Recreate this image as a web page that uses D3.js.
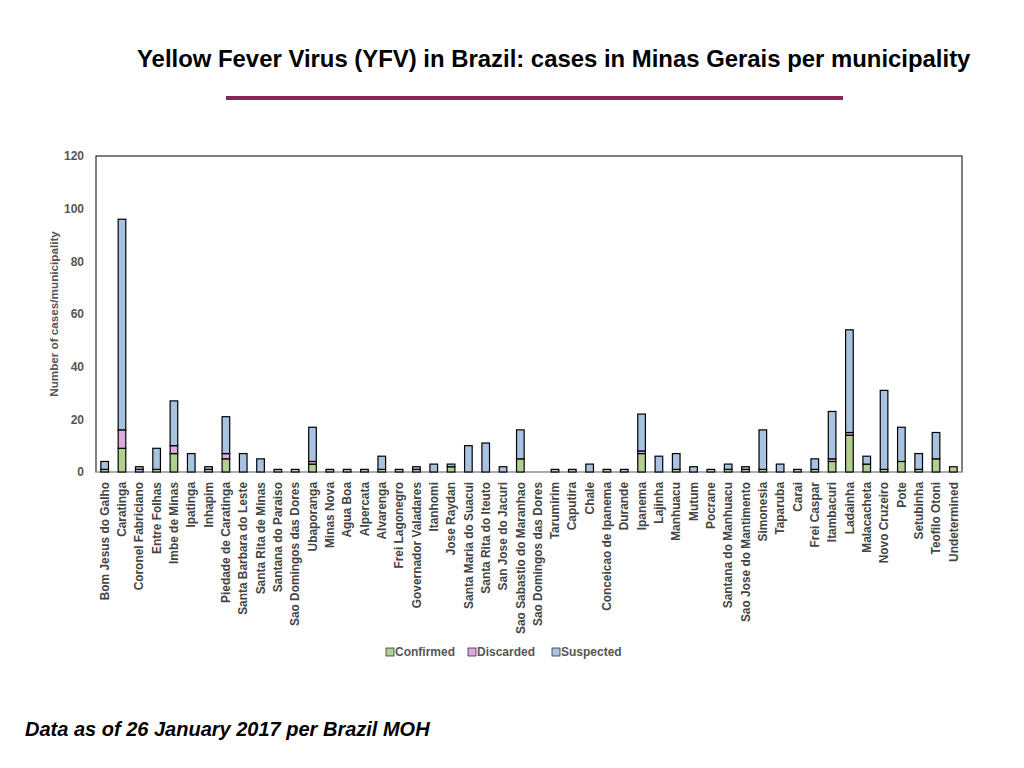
<!DOCTYPE html>
<html>
<head>
<meta charset="UTF-8">
<title>YFV Minas Gerais</title>
<script src="https://d3js.org/d3.v7.min.js"></script>
<style>
  body { margin: 0; background: #fff; }
  svg { font-family: "Liberation Sans", Arial, sans-serif; }
</style>
</head>
<body>
<div id="chart"></div>
<script>
// municipalities (x categories)
var municipalities = ["Bom Jesus do Galho", "Caratinga", "Coronel  Fabriciano", "Entre Folhas",
  "Imbe de Minas", "Ipatinga", "Inhapim", "Piedade de Caratinga", "Santa Barbara do Leste",
  "Santa Rita de Minas", "Santana do Paraiso", "Sao Domingos das Dores", "Ubaporanga",
  "Minas Nova", "Agua Boa", "Alpercata", "Alvarenga", "Frei Lagonegro", "Governador Valadares",
  "Itanhomi", "Jose Raydan", "Santa Maria do Suacui", "Santa Rita do Iteuto", "San Jose do Jacuri",
  "Sao Sabastio do Maranhao", "Sao Domingos das Dores", "Tarumirim", "Caputira", "Chale",
  "Conceicao de Ipanema", "Durande", "Ipanema", "Lajinha", "Manhuacu", "Mutum", "Pocrane",
  "Santana do Manhuacu", "Sao Jose do Mantimento", "Simonesia", "Taparuba", "Carai",
  "Frei Caspar", "Itambacuri", "Ladainha", "Malacacheta", "Novo Cruzeiro", "Pote",
  "Setubinha", "Teofilo  Otoni", "Undetermined"];

// series values
var confirmed = [1, 9, 0, 1, 7, 0, 1, 5, 0, 0, 0, 0, 3, 1, 0, 0, 1, 0, 0, 0, 2, 0, 0, 0, 5,
  0, 0, 0, 0, 1, 0, 7, 0, 1, 0, 1, 1, 1, 1, 0, 0, 1, 4, 14, 3, 1, 4, 1, 5, 2];
var discarded = [0, 7, 1, 0, 3, 0, 0, 2, 0, 0, 0, 1, 1, 0, 0, 0, 0, 0, 1, 0, 0, 0, 0, 0, 0,
  0, 0, 0, 0, 0, 0, 1, 0, 0, 0, 0, 0, 0, 0, 0, 0, 0, 1, 1, 0, 0, 0, 0, 0, 0];
var suspected = [3, 80, 1, 8, 17, 7, 1, 14, 7, 5, 1, 0, 13, 0, 1, 1, 5, 1, 1, 3, 1, 10, 11, 2, 11,
  0, 1, 1, 3, 0, 1, 14, 6, 6, 2, 0, 2, 1, 15, 3, 1, 4, 18, 39, 3, 30, 13, 6, 10, 0];

var seriesNames = ["Confirmed", "Discarded", "Suspected"];
var seriesColors = ["#b3cf90", "#dcaadd", "#a8c2e2"];
var yTicks = [0, 20, 40, 60, 80, 100, 120];

var W = 1024, H = 768;
var plotLeft = 96, plotRight = 962, plotTop = 156, plotBottom = 472;

var svg = d3.select("#chart").append("svg")
  .attr("width", W).attr("height", H);

// title and rule
svg.append("text")
  .attr("x", 137).attr("y", 67)
  .attr("font-size", "23.9px").attr("font-weight", "bold").attr("fill", "#000")
  .text("Yellow Fever Virus (YFV) in Brazil: cases in Minas Gerais per municipality");
svg.append("line")
  .attr("x1", 226).attr("x2", 843).attr("y1", 98).attr("y2", 98)
  .attr("stroke", "#8a2454").attr("stroke-width", 4);

// table for stacking
var rows = municipalities.map(function(m, i) {
  return { idx: i, Confirmed: confirmed[i], Discarded: discarded[i], Suspected: suspected[i] };
});
var stacked = d3.stack().keys(seriesNames)(rows);

var x = d3.scaleBand()
  .domain(d3.range(municipalities.length))
  .range([plotLeft, plotRight])
  .paddingInner(0.56).paddingOuter(0.28);
var y = d3.scaleLinear().domain([0, 120]).range([plotBottom, plotTop]);

// plot frame
svg.append("rect")
  .attr("x", plotLeft).attr("y", plotTop)
  .attr("width", plotRight - plotLeft).attr("height", plotBottom - plotTop)
  .attr("fill", "none").attr("stroke", "#000").attr("stroke-width", 1);
svg.append("line")
  .attr("x1", plotLeft).attr("x2", plotRight).attr("y1", plotBottom).attr("y2", plotBottom)
  .attr("stroke", "#bbb").attr("stroke-width", 1.5);

// y axis labels
var yAxis = d3.axisLeft(y).tickValues(yTicks).tickSize(0).tickPadding(12);
var gy = svg.append("g").attr("transform", "translate(" + plotLeft + ",0)").call(yAxis);
gy.select(".domain").remove();
gy.selectAll("text")
  .attr("font-family", "Liberation Sans, Arial, sans-serif")
  .attr("font-size", "12px").attr("font-weight", "bold").attr("fill", "#555");

svg.append("text")
  .attr("transform", "translate(58," + ((plotTop + plotBottom) / 2) + ") rotate(-90)")
  .attr("text-anchor", "middle")
  .attr("font-size", "11.7px").attr("font-weight", "bold").attr("fill", "#555")
  .text("Number of cases/municipality");

// bars
svg.append("g").selectAll("g")
  .data(stacked)
  .join("g")
    .attr("fill", function(d, i) { return seriesColors[i]; })
  .selectAll("rect")
  .data(function(d) { return d.filter(function(s) { return s[1] > s[0]; }); })
  .join("rect")
    .attr("x", function(d) { return x(d.data.idx); })
    .attr("y", function(d) { return y(d[1]); })
    .attr("width", x.bandwidth())
    .attr("height", function(d) { return y(d[0]) - y(d[1]); })
    .attr("stroke", "#000").attr("stroke-width", 1.2);

// x labels
var xAxis = d3.axisBottom(x).tickSize(0).tickPadding(0)
  .tickFormat(function(i) { return municipalities[i]; });
var gx = svg.append("g").attr("transform", "translate(0," + plotBottom + ")").call(xAxis);
gx.select(".domain").remove();
gx.selectAll("text")
  .attr("transform", "rotate(-90)")
  .attr("text-anchor", "end")
  .attr("x", -10).attr("y", 0).attr("dy", "0.35em")
  .attr("font-family", "Liberation Sans, Arial, sans-serif")
  .attr("font-size", "11.9px").attr("font-weight", "bold").attr("fill", "#444");

// legend
var legendX = [386, 468, 552];
var lg = svg.append("g").selectAll("g")
  .data(seriesNames)
  .join("g")
    .attr("transform", function(d, i) { return "translate(" + legendX[i] + ",652)"; });
lg.append("rect")
  .attr("x", 0).attr("y", -4).attr("width", 8).attr("height", 8)
  .attr("fill", function(d, i) { return seriesColors[i]; })
  .attr("stroke", "#333").attr("stroke-width", 0.8);
lg.append("text")
  .attr("x", 9).attr("y", 0).attr("dy", "0.35em")
  .attr("font-size", "12px").attr("font-weight", "bold").attr("fill", "#555")
  .text(function(d) { return d; });

// footer
svg.append("text")
  .attr("x", 25).attr("y", 736)
  .attr("font-size", "20px").attr("font-weight", "bold").attr("font-style", "italic")
  .attr("fill", "#000")
  .text("Data as of 26 January 2017 per Brazil MOH");
</script>
</body>
</html>
